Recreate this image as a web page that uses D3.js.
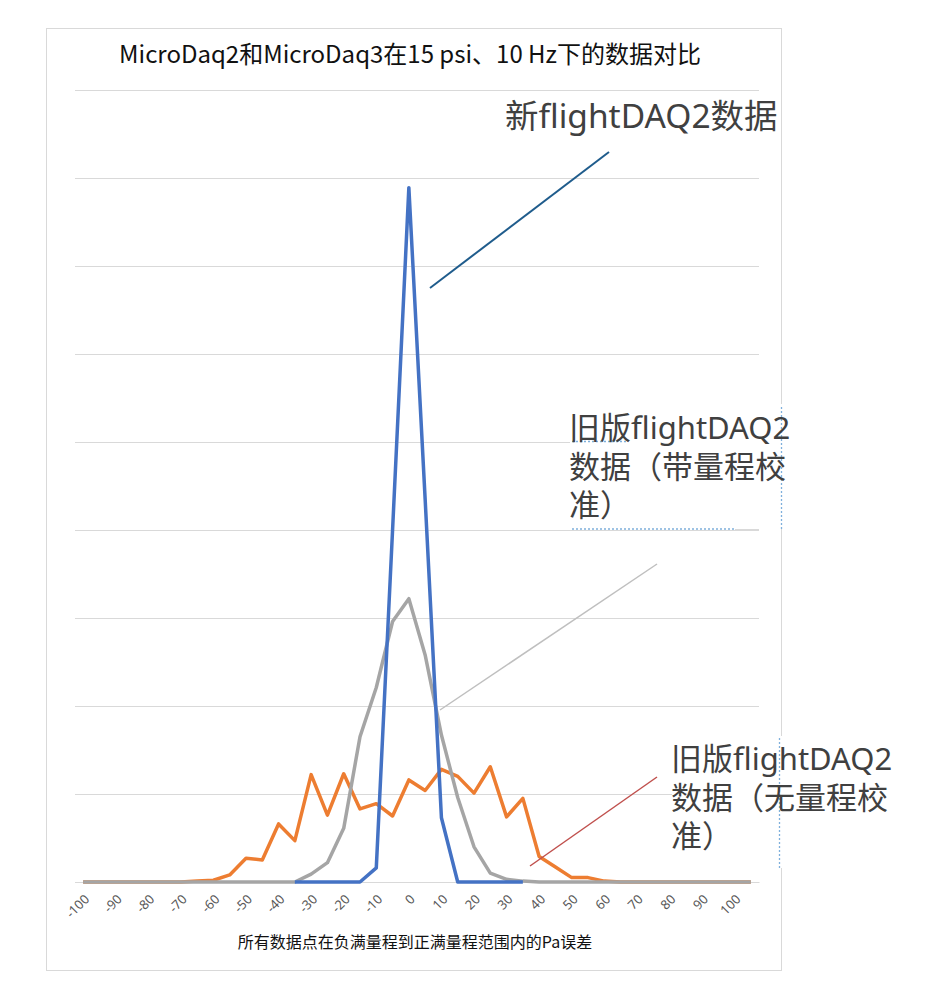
<!DOCTYPE html>
<html>
<head>
<meta charset="utf-8">
<script src="https://cdn.jsdelivr.net/npm/d3@7/dist/d3.min.js"></script>
<style>
  html, body { margin: 0; padding: 0; background: #fff; }
  svg { display: block; }
</style>
</head>
<body>
<svg id="chart" width="933" height="990"></svg>
<script>
// ---------- data ----------
const categories = d3.range(-100, 106, 5); // -100 .. 105
const tickLabels = d3.range(-100, 101, 10);
// old flightDAQ2 without range calibration (orange)
const orangeValues = [0,0,0,0,0,0,0, 1,2,8,27,25,66,47,122,76,123,83,89,75,116,104,128,120,101,131,74,95,29,17,5,5,1, 0,0,0,0,0,0,0,0,0];
// old flightDAQ2 with range calibration (gray)
const grayValues = [0,0,0,0,0,0,0,0,0,0,0,0,0, 0,9,22,61,165,221,296,322,258,167,96,40,10,3,1, 0,0,0,0,0,0,0,0,0,0,0,0,0,0];
// new flightDAQ2 (blue), only defined -35..35
const blueCats = d3.range(-35, 36, 5);
const blueValues = [0,0,0,0,0,16,400,789,435,73,0,0,0,0,0];

const title = "MicroDaq2和MicroDaq3在15 psi、10 Hz下的数据对比";
const xTitle = "所有数据点在负满量程到正满量程范围内的Pa误差";
const labelNew = ["新flightDAQ2数据"];
const labelWith = ["旧版flightDAQ2", "数据（带量程校", "准）"];
const labelWithout = ["旧版flightDAQ2", "数据（无量程校", "准）"];

// ---------- layout ----------
const svg = d3.select("#chart");
const plotL = 75, plotR = 759, plotT = 90, plotB = 882;

const x = d3.scaleBand().domain(categories).range([plotL, plotR]);
const xc = v => x(v) + x.bandwidth() / 2;
const y = d3.scaleLinear().domain([0, 900]).range([plotB, plotT]);

// chart border
svg.append("rect").attr("x", 46.5).attr("y", 28.5).attr("width", 735).attr("height", 942)
  .attr("fill", "#fff").attr("stroke", "#d9d9d9").attr("stroke-width", 1);

// gridlines
svg.append("g").selectAll("line").data(y.ticks(9)).join("line")
  .attr("x1", plotL).attr("x2", plotR)
  .attr("y1", d => Math.round(y(d)) + 0.5).attr("y2", d => Math.round(y(d)) + 0.5)
  .attr("stroke", "#d9d9d9").attr("stroke-width", 1);

// x axis (category labels)
const xAxis = d3.axisBottom(x).tickValues(tickLabels).tickSize(0).tickFormat(d => d);
const gx = svg.append("g").attr("transform", `translate(0,${plotB})`).call(xAxis);
gx.select(".domain").attr("stroke", "#d9d9d9");
gx.selectAll(".tick text")
  .attr("font-family", "'Noto Sans', sans-serif").attr("font-size", 13).attr("fill", "#595959")
  .attr("text-anchor", "end").attr("dy", null).attr("y", 0)
  .attr("transform", "translate(7,18) rotate(-45)");

// series
const line = d3.line().x(d => xc(d[0])).y(d => y(d[1]));
svg.append("path").datum(categories.map((c, i) => [c, orangeValues[i]]))
  .attr("d", line).attr("fill", "none").attr("stroke", "#ED7D31").attr("stroke-width", 3.5).attr("stroke-linejoin", "round");
svg.append("path").datum(categories.map((c, i) => [c, grayValues[i]]))
  .attr("d", line).attr("fill", "none").attr("stroke", "#A5A5A5").attr("stroke-width", 3.5).attr("stroke-linejoin", "round");
svg.append("path").datum(blueCats.map((c, i) => [c, blueValues[i]]))
  .attr("d", line).attr("fill", "none").attr("stroke", "#4472C4").attr("stroke-width", 3.5).attr("stroke-linejoin", "round");

// title
svg.append("text").attr("x", 410).attr("y", 63).attr("text-anchor", "middle")
  .attr("font-family", "'Noto Sans CJK SC', sans-serif").attr("font-size", 24).attr("fill", "#111")
  .text(title);

// x axis title
svg.append("text").attr("x", 415).attr("y", 948).attr("text-anchor", "middle")
  .attr("font-family", "'Noto Sans CJK SC', sans-serif").attr("font-size", 16).attr("fill", "#111")
  .text(xTitle);

// annotation boxes (cover gridlines)
svg.append("rect").attr("x", 570).attr("y", 404).attr("width", 212).attr("height", 123).attr("fill", "#fff");
svg.append("rect").attr("x", 672).attr("y", 736).attr("width", 261).attr("height", 132).attr("fill", "#fff");

// faint dotted box edges
const dotted = [[572, 529, 735, 529], [781.5, 407, 781.5, 530], [572, 441.5, 627, 441.5], [779.5, 738, 779.5, 870]];
svg.append("g").selectAll("line").data(dotted).join("line")
  .attr("x1", d => d[0]).attr("y1", d => d[1]).attr("x2", d => d[2]).attr("y2", d => d[3])
  .attr("stroke", "#7fb0dc").attr("stroke-width", 1.3).attr("stroke-dasharray", "2,2");
svg.append("line").attr("x1", 735).attr("x2", plotR).attr("y1", 529.5).attr("y2", 529.5).attr("stroke", "#d9d9d9");

// leader lines
const leaders = [
  {x1: 430, y1: 288, x2: 609, y2: 152, c: "#1F5C8C", w: 2},
  {x1: 440, y1: 710, x2: 657, y2: 564, c: "#BFBFBF", w: 1.5},
  {x1: 530, y1: 866, x2: 657, y2: 777, c: "#C0504D", w: 1.5}
];
svg.append("g").selectAll("line").data(leaders).join("line")
  .attr("x1", d => d.x1).attr("y1", d => d.y1).attr("x2", d => d.x2).attr("y2", d => d.y2)
  .attr("stroke", d => d.c).attr("stroke-width", d => d.w);

// annotation labels
function label(lines, x0, y0, fs, lh) {
  const t = svg.append("text").attr("font-family", "'Noto Sans', 'Noto Sans CJK SC', sans-serif")
    .attr("font-size", fs).attr("fill", "#404040");
  lines.forEach((s, i) => t.append("tspan").attr("x", x0).attr("y", y0 + i * lh).text(s));
}
label(labelNew, 505, 128, 33.5, 38.5);
label(labelWith, 569, 439, 31, 38.5);
label(labelWithout, 671, 770, 31, 38.5);
</script>
</body>
</html>
